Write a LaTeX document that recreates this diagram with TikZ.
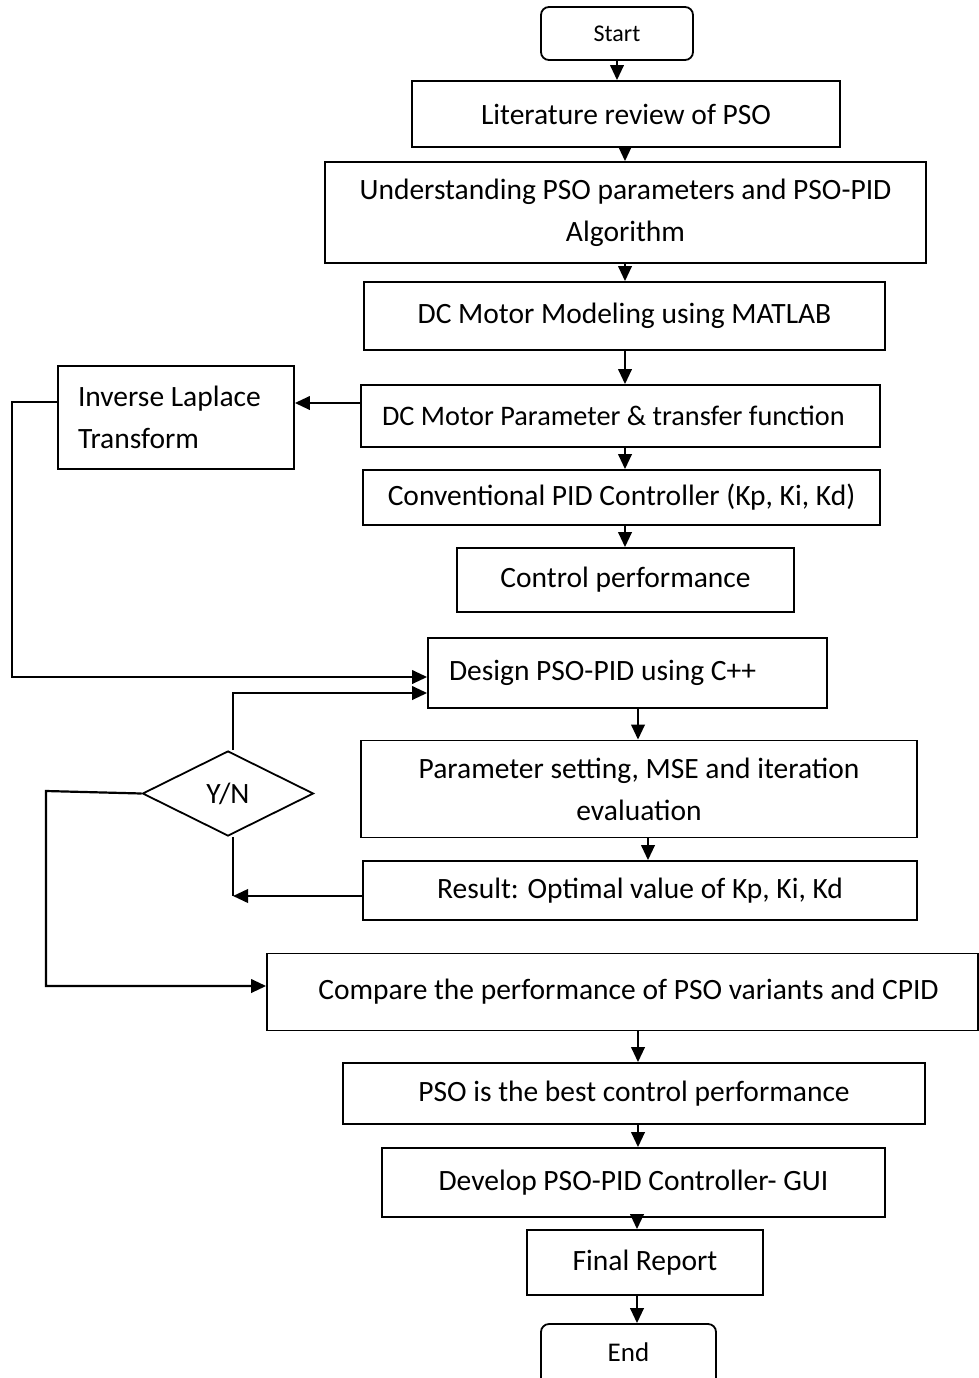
\documentclass[tikz,border=0pt]{standalone}
\usepackage{fontspec}
\setmainfont{Carlito}
\usetikzlibrary{shapes.geometric,arrows.meta}
\begin{document}
\begin{tikzpicture}[x=1pt,y=-1pt,
  box/.style={draw,line width=1.8pt,rectangle,inner sep=0pt,font=\fontsize{29.5}{42}\selectfont,align=center},
  term/.style={box,rounded corners=8pt},
  leftbox/.style={box,align=flush left,inner xsep=21pt},
  dia/.style={draw,line width=1.8pt,diamond,inner sep=0pt,aspect=2,font=\fontsize{29.5}{42}\selectfont},
  arr/.style={line width=2.2pt,-{Triangle[length=15pt,width=13.5pt]}},
  ln/.style={line width=2.2pt}]
\useasboundingbox (0,0) rectangle (979,1378);
\fill[white] (0,0) rectangle (979,1378);
% nodes
\node[term,minimum width=152,minimum height=53,font=\fontsize{24}{28}\selectfont] (start) at (617,33.5) {Start};
\node[box,minimum width=428,minimum height=66] (lit) at (626,114) {Literature review of PSO};
\node[box,minimum width=601,minimum height=101] (under) at (625.5,212.5) {Understanding PSO parameters and PSO-PID\\Algorithm};
\node[box,minimum width=521,minimum height=68] (dcm) at (624.5,316) {DC Motor Modeling using MATLAB};
\node[leftbox,minimum width=519,minimum height=62,text width=477,font=\fontsize{28.3}{40}\selectfont] (param) at (620.5,416) {DC Motor Parameter \& transfer function};
\node[leftbox,minimum width=236,minimum height=103,text width=196,inner xsep=20pt] (inv) at (176,417.5) {Inverse Laplace\\Transform};
\node[box,minimum width=517,minimum height=55] (conv) at (621.5,497.5) {Conventional PID Controller (Kp, Ki, Kd)};
\node[box,minimum width=337,minimum height=64] (control) at (625.5,580) {Control performance};
\node[leftbox,minimum width=399,minimum height=70,text width=357] (design) at (627.5,673) {Design PSO-PID using C++};
\node[box,minimum width=556,minimum height=97] (pset) at (639,789) {Parameter setting, MSE and iteration\\evaluation};
\node[box,minimum width=554,minimum height=59] (result) at (640,890.5) {Result: Optimal value of Kp, Ki, Kd};
\node[dia,minimum width=171,minimum height=85] (yn) at (228,793.5) {Y/N};
\node[box,minimum width=711,minimum height=77] (compare) at (622.5,992) {\hspace*{12pt}Compare the performance of PSO variants and CPID};
\node[box,minimum width=582,minimum height=61] (pso) at (634,1093.5) {PSO is the best control performance};
\node[box,minimum width=503,minimum height=69] (dev) at (633.5,1182.5) {Develop PSO-PID Controller- GUI};
\node[box,minimum width=236,minimum height=65] (final) at (645,1262.5) {Final Report};
\node[term,minimum width=175,minimum height=64,text depth=8pt,font=\fontsize{27}{30}\selectfont] (end) at (628.5,1356) {End};
% helper coordinates
\coordinate (xa) at (625,0);
\coordinate (xb) at (638,0);
\coordinate (xc) at (648,0);
\coordinate (xd) at (637,0);
\coordinate (ya) at (0,403);
\coordinate (l1) at (12,402);
\coordinate (l2) at (12,677);
\coordinate (d1) at (233,693);
\coordinate (d2) at (233,896);
\coordinate (d3) at (46,791);
\coordinate (d4) at (46,986);
% connectors
\draw[arr] (start.south) -- (start.south |- lit.north);
\draw[arr] (xa |- lit.south) -- (xa |- under.north);
\draw[arr] (xa |- under.south) -- (xa |- dcm.north);
\draw[arr] (xa |- dcm.south) -- (xa |- param.north);
\draw[arr] (xa |- param.south) -- (xa |- conv.north);
\draw[arr] (xa |- conv.south) -- (xa |- control.north);
\draw[arr] (param.west |- ya) -- (inv.east |- ya);
\draw[arr] (inv.west |- l1) -- (l1) -- (l2) -- (design.west |- l2);
\draw[arr] (xb |- design.south) -- (xb |- pset.north);
\draw[arr] (xc |- pset.south) -- (xc |- result.north);
\draw[ln] (yn.south -| d2) -- (d2);
\draw[arr] (result.west |- d2) -- (d2);
\draw[arr] (yn.north -| d1) -- (d1) -- (design.west |- d1);
\draw[arr] (yn.west) -- (d3) -- (d4) -- (compare.west |- d4);
\draw[arr] (xb |- compare.south) -- (xb |- pso.north);
\draw[arr] (xb |- pso.south) -- (xb |- dev.north);
\draw[arr] (xd |- dev.south) -- (xd |- final.north);
\draw[arr] (xd |- final.south) -- (xd |- end.north);
\end{tikzpicture}
\end{document}
